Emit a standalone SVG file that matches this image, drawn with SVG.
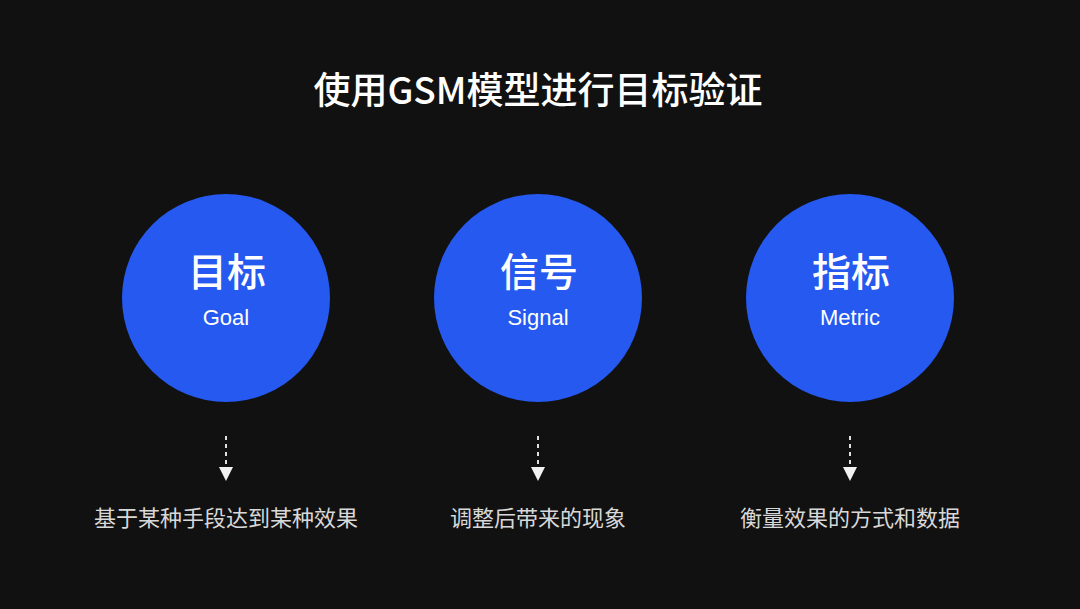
<svg xmlns="http://www.w3.org/2000/svg" width="1080" height="609" viewBox="0 0 1080 609">
<defs>
<style>
.cn{font-family:"Noto Sans CJK SC","Noto Sans",sans-serif;}
.title{font-size:37px;fill:#ffffff;font-weight:500;}
.big{font-size:39px;fill:#ffffff;font-weight:500;}
.en{font-family:"Liberation Sans","Noto Sans",sans-serif;font-size:22px;fill:#ffffff;}
.desc{font-size:22px;fill:#d8d8d8;}
.circ{fill:#2559ef;}
.dash{stroke:#e0e0e0;stroke-width:2;stroke-dasharray:4,4;fill:none;}
</style>
<marker id="ah" markerWidth="14" markerHeight="14" refX="0" refY="6" orient="auto" markerUnits="userSpaceOnUse" viewBox="0 0 12 12">
<path d="M0,0 L12,6 L0,12 Z" fill="#f2f2f2"/>
</marker>
</defs>
<rect width="1080" height="609" fill="#111111"/>
<text class="cn title" x="538" y="104" text-anchor="middle">使用GSM模型进行目标验证</text>
<g id="node-goal">
<circle class="circ" cx="226" cy="298" r="104"/>
<text class="cn big" x="227" y="286" text-anchor="middle">目标</text>
<text class="en" x="226" y="325" text-anchor="middle">Goal</text>
</g>
<g id="node-signal">
<circle class="circ" cx="538" cy="298" r="104"/>
<text class="cn big" x="539" y="286" text-anchor="middle">信号</text>
<text class="en" x="538" y="325" text-anchor="middle">Signal</text>
</g>
<g id="node-metric">
<circle class="circ" cx="850" cy="298" r="104"/>
<text class="cn big" x="851" y="286" text-anchor="middle">指标</text>
<text class="en" x="850" y="325" text-anchor="middle">Metric</text>
</g>
<g id="connectors">
<line class="dash" x1="226" y1="436" x2="226" y2="467" marker-end="url(#ah)"/>
<line class="dash" x1="538" y1="436" x2="538" y2="467" marker-end="url(#ah)"/>
<line class="dash" x1="850" y1="436" x2="850" y2="467" marker-end="url(#ah)"/>
</g>
<g id="desc-goal"><text class="cn desc" x="226" y="526" text-anchor="middle">基于某种手段达到某种效果</text></g>
<g id="desc-signal"><text class="cn desc" x="538" y="526" text-anchor="middle">调整后带来的现象</text></g>
<g id="desc-metric"><text class="cn desc" x="850" y="526" text-anchor="middle">衡量效果的方式和数据</text></g>
</svg>
